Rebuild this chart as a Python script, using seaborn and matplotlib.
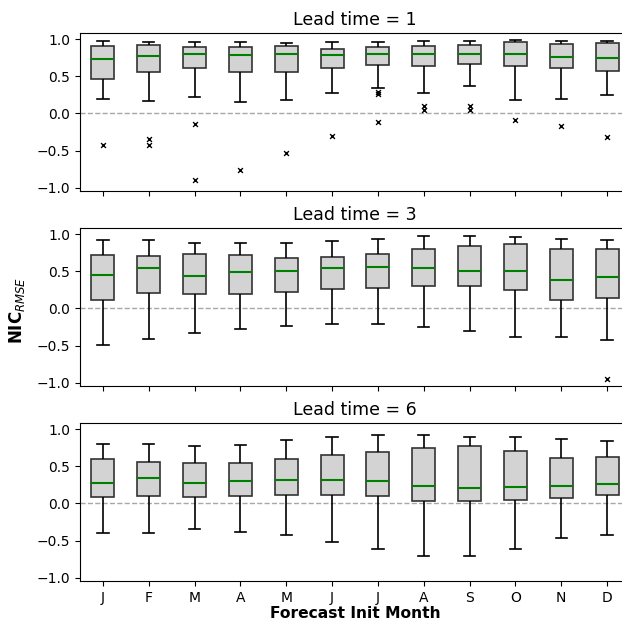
import matplotlib
matplotlib.use("Agg")
import matplotlib.pyplot as plt
import seaborn as sns
import numpy as np
import pandas as pd

# Settings
month_labels = ["J", "F", "M", "A", "M", "J", "J", "A", "S", "O", "N", "D"]
lead_times = [1, 3, 6]

# Box summaries: whisker low, q1, median, q3, whisker high
lead1_lo = [0.19, 0.17, 0.22, 0.15, 0.18, 0.27, 0.35, 0.28, 0.37, 0.18, 0.20, 0.25]
lead1_q1 = [0.47, 0.56, 0.61, 0.56, 0.56, 0.61, 0.66, 0.64, 0.67, 0.64, 0.61, 0.58]
lead1_med = [0.73, 0.78, 0.80, 0.79, 0.80, 0.79, 0.80, 0.81, 0.80, 0.80, 0.76, 0.75]
lead1_q3 = [0.91, 0.92, 0.90, 0.90, 0.91, 0.87, 0.90, 0.91, 0.92, 0.96, 0.94, 0.95]
lead1_hi = [0.98, 0.96, 0.96, 0.96, 0.955, 0.96, 0.96, 0.98, 0.985, 0.99, 0.98, 0.98]

lead3_lo = [-0.49, -0.41, -0.33, -0.28, -0.23, -0.21, -0.21, -0.25, -0.31, -0.39, -0.39, -0.43]
lead3_q1 = [0.11, 0.21, 0.19, 0.19, 0.22, 0.26, 0.28, 0.31, 0.30, 0.25, 0.11, 0.14]
lead3_med = [0.45, 0.54, 0.44, 0.49, 0.51, 0.54, 0.56, 0.54, 0.50, 0.51, 0.39, 0.43]
lead3_q3 = [0.72, 0.71, 0.73, 0.72, 0.68, 0.70, 0.74, 0.81, 0.84, 0.87, 0.81, 0.81]
lead3_hi = [0.92, 0.93, 0.88, 0.88, 0.88, 0.91, 0.94, 0.98, 0.98, 0.97, 0.94, 0.93]

lead6_lo = [-0.40, -0.40, -0.35, -0.39, -0.42, -0.52, -0.61, -0.71, -0.71, -0.62, -0.47, -0.42]
lead6_q1 = [0.09, 0.095, 0.09, 0.095, 0.11, 0.11, 0.095, 0.04, 0.04, 0.05, 0.07, 0.11]
lead6_med = [0.27, 0.35, 0.27, 0.31, 0.32, 0.32, 0.31, 0.23, 0.21, 0.22, 0.23, 0.26]
lead6_q3 = [0.60, 0.56, 0.54, 0.54, 0.60, 0.65, 0.70, 0.75, 0.77, 0.71, 0.62, 0.63]
lead6_hi = [0.81, 0.81, 0.78, 0.79, 0.86, 0.90, 0.92, 0.92, 0.90, 0.90, 0.87, 0.85]

# Outliers (month index, value)
lead1_flier_month = [0, 1, 1, 2, 2, 3, 4, 5, 6, 6, 6, 7, 7, 8, 8, 9, 10, 11]
lead1_flier_value = [-0.42, -0.34, -0.42, -0.14, -0.90, -0.77, -0.54, -0.31,
                     0.285, 0.265, -0.11, 0.10, 0.05, 0.10, 0.05, -0.09, -0.17, -0.32]
lead3_flier_month = [11]
lead3_flier_value = [-0.95]
lead6_flier_month = []
lead6_flier_value = []

boxes = {
    1: [lead1_lo, lead1_q1, lead1_med, lead1_q3, lead1_hi],
    3: [lead3_lo, lead3_q1, lead3_med, lead3_q3, lead3_hi],
    6: [lead6_lo, lead6_q1, lead6_med, lead6_q3, lead6_hi],
}
fliers = {
    1: (lead1_flier_month, lead1_flier_value),
    3: (lead3_flier_month, lead3_flier_value),
    6: (lead6_flier_month, lead6_flier_value),
}

fig = plt.figure(figsize=(6.22, 6.2), dpi=100)
left, width, height = 80 / 622, 550 / 622, 158 / 620
bottoms = [429 / 620, 234 / 620, 39 / 620]
axes = []

for i, lead in enumerate(lead_times):
    ax = fig.add_axes([left, bottoms[i], width, height])
    axes.append(ax)
    rows = []
    for stat in boxes[lead]:
        for m, v in enumerate(stat):
            rows.append({"month": m, "value": v})
    df = pd.DataFrame(rows)

    ax.axhline(0, color="#a8a8a8", linestyle="--", linewidth=1, zorder=0)
    sns.boxplot(data=df, x="month", y="value", ax=ax, whis=(0, 100), width=0.5,
                color="lightgray", linecolor="#333333", linewidth=1.2,
                showfliers=False, saturation=1,
                medianprops={"color": "green", "linewidth": 1.5},
                whiskerprops={"color": "black"}, capprops={"color": "black"})
    fm, fv = fliers[lead]
    if fm:
        sns.scatterplot(x=fm, y=fv, ax=ax, marker="x", color="black", s=12,
                        linewidth=1.0, zorder=5)

    ax.set_ylim(-1.047, 1.087)
    ax.set_xlim(-0.5, 11.5)
    ax.set_yticks([-1.0, -0.5, 0.0, 0.5, 1.0])
    ax.tick_params(labelsize=10)
    ax.set_title(f"Lead time = {lead}", fontsize=12.5)
    ax.set_ylabel("")
    ax.set_xlabel("")
    ax.set_xticks(range(12))
    if i < 2:
        ax.set_xticklabels([])
    else:
        ax.set_xticklabels(month_labels)

axes[2].set_xlabel("Forecast Init Month", fontsize=11.2, fontweight="bold", labelpad=1)
fig.text(0.028, 0.5, "NIC$_{RMSE}$", rotation=90, va="center", ha="center",
         fontsize=12, fontweight="bold")

plt.savefig("out.png", dpi=100)
